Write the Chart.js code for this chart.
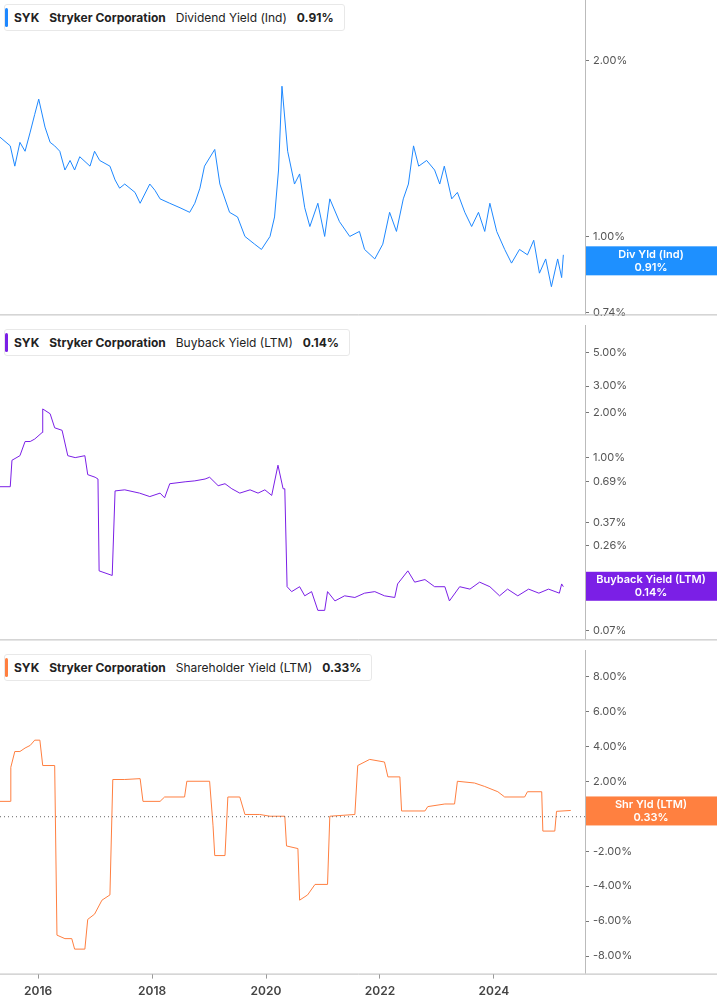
<!DOCTYPE html>
<html>
<head>
<meta charset="utf-8">
<script src="https://cdn.jsdelivr.net/npm/chart.js@4"></script>
<style>
  body { margin: 0; background: #fff; font-family: Inter, "Noto Sans", sans-serif; }
  .panel { position: relative; width: 717px; }
  .hdr { position: absolute; left: 4px; top: 4px; background: #fff; border: 1px solid #e8e8e8; border-radius: 3px;
         font-size: 12px; color: #222; padding: 5px 10px 5px 9px; white-space: nowrap; z-index: 2; }
  .hdr::before { content: ""; position: absolute; left: 0; top: 3px; bottom: 3px; width: 3px; border-radius: 2px; background: var(--c); }
  .hdr b { font-weight: 700; margin-right: 10px; }
  .hdr span { margin-right: 10px; }
</style>
</head>
<body>
<div class="panel" style="height:325px"><div class="hdr" style="--c:#1e88ff"><b>SYK</b><b>Stryker Corporation</b><span>Dividend Yield (Ind)</span><b style="margin:0">0.91%</b></div><canvas id="c1"></canvas></div>
<div class="panel" style="height:325px"><div class="hdr" style="--c:#7b1fe6"><b>SYK</b><b>Stryker Corporation</b><span>Buyback Yield (LTM)</span><b style="margin:0">0.14%</b></div><canvas id="c2"></canvas></div>
<div class="panel" style="height:355px"><div class="hdr" style="--c:#ff7f40"><b>SYK</b><b>Stryker Corporation</b><span>Shareholder Yield (LTM)</span><b style="margin:0">0.33%</b></div><canvas id="c3"></canvas></div>
<script>
// dates as decimal years
const divDates = [2015.33,2015.51,2015.59,2015.68,2015.77,2015.86,2015.94,2016.01,2016.12,2016.21,2016.29,2016.38,2016.47,2016.56,2016.64,2016.73,2016.91,2016.99,2017.08,2017.26,2017.35,2017.43,2017.52,2017.70,2017.79,2017.96,2018.05,2018.14,2018.31,2018.49,2018.66,2018.75,2018.84,2018.92,2019.10,2019.19,2019.36,2019.50,2019.63,2019.80,2019.92,2020.07,2020.15,2020.22,2020.28,2020.38,2020.50,2020.59,2020.68,2020.77,2020.91,2021.03,2021.12,2021.29,2021.47,2021.64,2021.73,2021.91,2022.05,2022.17,2022.29,2022.41,2022.50,2022.59,2022.68,2022.82,2022.96,2023.05,2023.13,2023.26,2023.36,2023.49,2023.61,2023.73,2023.84,2023.93,2024.05,2024.19,2024.31,2024.45,2024.59,2024.70,2024.80,2024.91,2025.01,2025.12,2025.19,2025.22];
const divYield = [1.48,1.43,1.32,1.45,1.40,1.51,1.62,1.72,1.54,1.45,1.43,1.40,1.30,1.35,1.30,1.37,1.32,1.40,1.35,1.32,1.25,1.21,1.23,1.19,1.14,1.23,1.20,1.16,1.14,1.12,1.10,1.14,1.21,1.32,1.41,1.23,1.10,1.08,1.00,0.97,0.95,1.00,1.08,1.30,1.81,1.40,1.23,1.28,1.12,1.04,1.14,1.00,1.16,1.06,1.00,1.02,0.95,0.915,0.97,1.10,1.02,1.16,1.23,1.43,1.32,1.35,1.30,1.23,1.32,1.16,1.19,1.10,1.04,1.10,1.02,1.14,1.02,0.95,0.90,0.95,0.93,0.985,0.865,0.915,0.82,0.915,0.85,0.93,0.985,0.91];

const bbDates = [2015.33,2015.51,2015.54,2015.68,2015.77,2015.86,2015.94,2016.07,2016.08,2016.21,2016.29,2016.42,2016.52,2016.65,2016.82,2016.87,2017.00,2017.05,2017.07,2017.30,2017.35,2017.52,2017.78,2017.96,2018.14,2018.22,2018.31,2018.58,2018.75,2018.93,2019.01,2019.16,2019.28,2019.40,2019.54,2019.72,2019.86,2019.98,2020.10,2020.21,2020.30,2020.33,2020.37,2020.45,2020.59,2020.68,2020.80,2020.91,2021.03,2021.08,2021.21,2021.38,2021.56,2021.73,2021.91,2022.08,2022.26,2022.31,2022.49,2022.61,2022.79,2022.96,2023.14,2023.22,2023.40,2023.58,2023.75,2023.93,2024.10,2024.24,2024.42,2024.61,2024.79,2024.96,2025.15,2025.19,2025.22];
const bbYield = [0.64,0.64,0.96,1.03,1.28,1.28,1.33,1.47,2.11,1.96,1.58,1.52,1.03,1.00,1.03,0.77,0.74,0.72,0.176,0.164,0.60,0.61,0.58,0.55,0.58,0.54,0.67,0.69,0.70,0.72,0.74,0.65,0.67,0.62,0.58,0.61,0.58,0.61,0.56,0.89,0.62,0.62,0.138,0.128,0.138,0.12,0.128,0.096,0.096,0.128,0.111,0.12,0.117,0.125,0.128,0.12,0.117,0.144,0.176,0.148,0.154,0.138,0.138,0.111,0.138,0.133,0.148,0.138,0.12,0.133,0.12,0.133,0.125,0.133,0.125,0.144,0.138];

const shDates = [2015.33,2015.51,2015.52,2015.59,2015.68,2015.77,2015.86,2015.94,2016.03,2016.08,2016.29,2016.33,2016.47,2016.59,2016.64,2016.82,2016.87,2016.99,2017.12,2017.26,2017.31,2017.52,2017.79,2017.84,2018.14,2018.22,2018.57,2018.61,2019.01,2019.07,2019.10,2019.28,2019.33,2019.54,2019.63,2019.89,2020.07,2020.33,2020.36,2020.56,2020.59,2020.73,2020.86,2021.08,2021.12,2021.56,2021.61,2021.82,2022.08,2022.14,2022.35,2022.38,2022.79,2022.84,2023.14,2023.31,2023.36,2023.66,2023.84,2024.07,2024.19,2024.54,2024.59,2024.84,2024.86,2025.07,2025.10,2025.35];
const shYield = [0.85,0.85,2.8,3.7,3.7,3.9,4.05,4.35,4.35,2.9,2.9,-6.8,-7.0,-7.0,-7.6,-7.6,-5.9,-5.6,-4.8,-4.5,2.1,2.1,2.15,0.85,0.85,1.1,1.1,2.0,2.0,-0.55,-2.25,-2.25,1.1,1.1,0.1,0.1,0,0,-1.7,-1.85,-4.8,-4.5,-3.9,-3.9,0,0.1,2.9,3.25,3.1,2.25,2.25,0.3,0.3,0.55,0.7,0.7,2.0,1.9,1.7,1.4,1.1,1.1,1.4,1.4,-0.85,-0.85,0.28,0.33];

const divTicks = [0.74, 0.88, 1.0, 2.0];
const bbTicks = [0.07, 0.26, 0.37, 0.69, 1.0, 2.0, 3.0, 5.0];
const shTicks = [-8, -6, -4, -2, 0, 2, 4, 6, 8];
const yearTicks = [2016, 2018, 2020, 2022, 2024];

const X_MIN = 2015.33, X_MAX = 2025.6;

const badgePlugin = {
  id: 'badge',
  afterDraw(chart, args, opts) {
    const { ctx } = chart;
    const py = chart.scales.y.getPixelForValue(opts.value);
    const x0 = chart.chartArea.right, w = chart.width - x0;
    ctx.save();
    ctx.fillStyle = opts.color;
    ctx.fillRect(x0, py - 14, w, 29);
    ctx.fillStyle = '#fff';
    ctx.font = '600 11px Inter, sans-serif';
    ctx.textAlign = 'center';
    ctx.textBaseline = 'middle';
    ctx.fillText(opts.label, x0 + w / 2, py - 6);
    ctx.fillText(opts.value.toFixed(2) + '%', x0 + w / 2, py + 7);
    ctx.restore();
  }
};

const framePlugin = {
  id: 'frame',
  afterDraw(chart, args, opts) {
    const { ctx, chartArea } = chart;
    ctx.save();
    ctx.strokeStyle = '#bbb';
    ctx.lineWidth = 1;
    ctx.beginPath();
    ctx.moveTo(chartArea.right + 0.5, 0);
    ctx.lineTo(chartArea.right + 0.5, chartArea.bottom);
    ctx.moveTo(0, chartArea.bottom + 0.5);
    ctx.lineTo(chart.width, chartArea.bottom + 0.5);
    ctx.stroke();
    if (opts.zero) {
      const py = chart.scales.y.getPixelForValue(0);
      ctx.setLineDash([1, 3]);
      ctx.strokeStyle = '#666';
      ctx.beginPath();
      ctx.moveTo(0, py + 0.5);
      ctx.lineTo(chartArea.right, py + 0.5);
      ctx.stroke();
    }
    ctx.restore();
  }
};

function makeChart(id, dates, vals, color, badgeColor, yCfg, ticks, badgeLabel, badgeValue, showX, zero) {
  const pts = dates.map((d, i) => ({ x: d, y: vals[i] }));
  return new Chart(document.getElementById(id), {
    type: 'line',
    data: { datasets: [{ data: pts, borderColor: color, borderWidth: 1, pointRadius: 0, tension: 0 }] },
    plugins: [badgePlugin, framePlugin],
    options: {
      responsive: true,
      maintainAspectRatio: false,
      animation: false,
      layout: { padding: { top: showX ? 2 : 0, bottom: showX ? 0 : 1 } },
      plugins: {
        legend: { display: false },
        tooltip: { enabled: false },
        badge: { color: badgeColor, label: badgeLabel, value: badgeValue },
        frame: { zero: zero }
      },
      scales: {
        x: {
          type: 'linear', min: X_MIN, max: X_MAX, display: showX, bounds: 'data',
          afterBuildTicks: s => { s.ticks = yearTicks.map(v => ({ value: v })); },
          ticks: { color: '#444', font: { size: 12, weight: '600', family: 'Inter' }, callback: v => String(v), padding: 6 },
          grid: { display: true, drawOnChartArea: false, tickLength: 5, color: '#999' },
          border: { display: false }
        },
        y: Object.assign({
          position: 'right',
          bounds: 'data',
          afterFit: s => { s.width = 132; },
          afterBuildTicks: s => { s.ticks = ticks.map(v => ({ value: v })); },
          ticks: { color: '#555', font: { size: 11, family: 'Inter' }, padding: 4,
                   callback: v => v.toFixed(2) + '%' },
          grid: { drawOnChartArea: false, tickLength: 4, color: '#777' },
          border: { display: false }
        }, yCfg)
      }
    }
  });
}

makeChart('c1', divDates, divYield, '#1e88ff', '#1e90ff', { type: 'logarithmic', min: 0.735, max: 2.44 }, divTicks, 'Div Yld (Ind)', 0.91, false, false);
makeChart('c2', bbDates, bbYield, '#7b1fe6', '#7b1fe6', { type: 'logarithmic', min: 0.0615, max: 6.5 }, bbTicks, 'Buyback Yield (LTM)', 0.14, false, false);
makeChart('c3', shDates, shYield, '#ff7f40', '#ff8040', { type: 'linear', min: -9.0, max: 8.9 }, shTicks, 'Shr Yld (LTM)', 0.33, true, true);
</script>
</body>
</html>
